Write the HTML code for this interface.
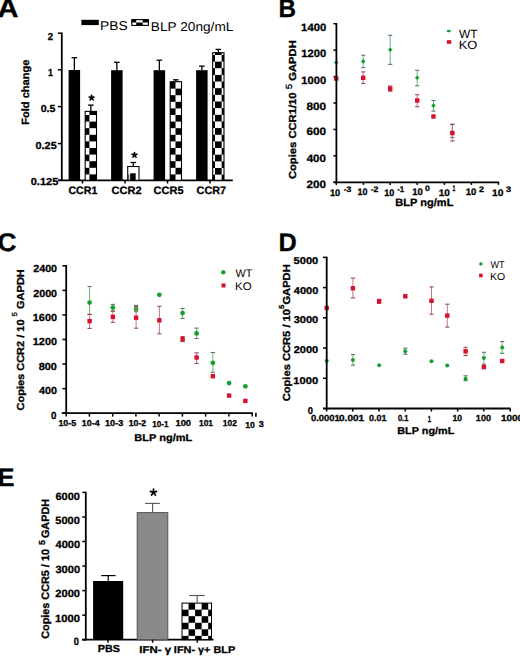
<!DOCTYPE html>
<html><head><meta charset="utf-8"><title>Figure</title><style>html,body{margin:0;padding:0;background:#fff;width:520px;height:656px;overflow:hidden}svg text{font-family:"Liberation Sans", sans-serif;text-rendering:geometricPrecision} svg text[font-weight=bold]{stroke:#000;stroke-width:0.3px}</style></head><body>
<svg width="520" height="656" viewBox="0 0 520 656" style="display:block;font-family:'Liberation Sans', sans-serif"><defs><pattern id="pA0" patternUnits="userSpaceOnUse" x="82.80" y="115.00" width="13.20" height="13.20"><rect width="13.20" height="13.20" fill="#fff"/><rect width="6.60" height="6.60" fill="#000"/><rect x="6.60" y="6.60" width="6.60" height="6.60" fill="#000"/></pattern><pattern id="pA1" patternUnits="userSpaceOnUse" x="130.00" y="173.20" width="11.20" height="11.20"><rect width="11.20" height="11.20" fill="#fff"/><rect width="5.60" height="5.60" fill="#000"/><rect x="5.60" y="5.60" width="5.60" height="5.60" fill="#000"/></pattern><pattern id="pA2" patternUnits="userSpaceOnUse" x="168.90" y="82.00" width="13.20" height="13.20"><rect width="13.20" height="13.20" fill="#fff"/><rect width="6.60" height="6.60" fill="#000"/><rect x="6.60" y="6.60" width="6.60" height="6.60" fill="#000"/></pattern><pattern id="pA3" patternUnits="userSpaceOnUse" x="215.00" y="61.60" width="13.30" height="13.30"><rect width="13.30" height="13.30" fill="#fff"/><rect width="6.65" height="6.65" fill="#000"/><rect x="6.65" y="6.65" width="6.65" height="6.65" fill="#000"/></pattern><pattern id="pE" patternUnits="userSpaceOnUse" x="188.55" y="603.10" width="13.10" height="13.10"><rect width="13.10" height="13.10" fill="#fff"/><rect width="6.55" height="6.55" fill="#000"/><rect x="6.55" y="6.55" width="6.55" height="6.55" fill="#000"/></pattern></defs>
<text x="-2.54" y="17.31" font-size="26.6" font-weight="bold" textLength="20.99" lengthAdjust="spacingAndGlyphs">A</text>
<text x="278.50" y="17.31" font-size="25.6" font-weight="bold" textLength="17.45" lengthAdjust="spacingAndGlyphs">B</text>
<text x="-2.44" y="250.60" font-size="25.6" font-weight="bold" textLength="18.97" lengthAdjust="spacingAndGlyphs">C</text>
<text x="278.62" y="250.67" font-size="25.6" font-weight="bold" textLength="18.27" lengthAdjust="spacingAndGlyphs">D</text>
<text x="-2.41" y="486.08" font-size="25.6" font-weight="bold" textLength="16.97" lengthAdjust="spacingAndGlyphs">E</text>
<rect x="81.40" y="19.80" width="17.40" height="5.30" fill="#000"/>
<text x="100.00" y="29.85" font-size="12.8" font-weight="normal" textLength="27.66" lengthAdjust="spacingAndGlyphs">PBS</text>
<rect x="131.80" y="19.60" width="16.60" height="5.80" fill="#fff" stroke="#000" stroke-width="1.1"/>
<rect x="131.80" y="19.60" width="4.40" height="2.90" fill="#000"/>
<rect x="142.70" y="19.60" width="5.70" height="2.90" fill="#000"/>
<rect x="136.20" y="22.50" width="6.50" height="2.90" fill="#000"/>
<text x="150.82" y="30.61" font-size="12.8" font-weight="normal" textLength="82.55" lengthAdjust="spacingAndGlyphs">BLP 20ng/mL</text>
<line x1="61.80" y1="32.50" x2="61.80" y2="181.00" stroke="#000" stroke-width="1.8"/>
<line x1="58.00" y1="180.30" x2="232.80" y2="180.30" stroke="#000" stroke-width="1.8"/>
<line x1="57.80" y1="33.20" x2="61.80" y2="33.20" stroke="#000" stroke-width="1.5"/>
<text x="47.85" y="39.79" font-size="10.2" font-weight="bold" textLength="5.37" lengthAdjust="spacingAndGlyphs">2</text>
<line x1="57.80" y1="69.80" x2="61.80" y2="69.80" stroke="#000" stroke-width="1.5"/>
<text x="47.88" y="75.61" font-size="10.2" font-weight="bold" textLength="4.93" lengthAdjust="spacingAndGlyphs">1</text>
<line x1="57.80" y1="106.60" x2="61.80" y2="106.60" stroke="#000" stroke-width="1.5"/>
<text x="40.70" y="112.42" font-size="10.2" font-weight="bold" textLength="14.69" lengthAdjust="spacingAndGlyphs">0.5</text>
<line x1="57.80" y1="143.60" x2="61.80" y2="143.60" stroke="#000" stroke-width="1.5"/>
<text x="35.52" y="149.42" font-size="10.2" font-weight="bold" textLength="21.16" lengthAdjust="spacingAndGlyphs">0.25</text>
<line x1="57.80" y1="180.30" x2="61.80" y2="180.30" stroke="#000" stroke-width="1.5"/>
<text x="30.77" y="185.43" font-size="10.2" font-weight="bold" textLength="27.49" lengthAdjust="spacingAndGlyphs">0.125</text>
<text transform="translate(29.36,124.77) rotate(-90) scale(1.0439,1)" font-size="10.6" font-weight="bold">Fold change</text>
<line x1="82.50" y1="180.30" x2="82.50" y2="183.50" stroke="#000" stroke-width="1.5"/>
<text x="68.44" y="194.17" font-size="10.8" font-weight="bold" textLength="28.88" lengthAdjust="spacingAndGlyphs">CCR1</text>
<line x1="125.00" y1="180.30" x2="125.00" y2="183.50" stroke="#000" stroke-width="1.5"/>
<text x="111.50" y="194.17" font-size="10.8" font-weight="bold" textLength="30.03" lengthAdjust="spacingAndGlyphs">CCR2</text>
<line x1="167.50" y1="180.30" x2="167.50" y2="183.50" stroke="#000" stroke-width="1.5"/>
<text x="153.64" y="194.17" font-size="10.8" font-weight="bold" textLength="29.88" lengthAdjust="spacingAndGlyphs">CCR5</text>
<line x1="210.00" y1="180.30" x2="210.00" y2="183.50" stroke="#000" stroke-width="1.5"/>
<text x="196.64" y="194.17" font-size="10.8" font-weight="bold" textLength="29.49" lengthAdjust="spacingAndGlyphs">CCR7</text>
<rect x="68.60" y="70.00" width="11.50" height="110.30" fill="#000"/>
<line x1="74.35" y1="57.70" x2="74.35" y2="70.00" stroke="#000" stroke-width="1.3"/>
<line x1="71.55" y1="57.70" x2="77.15" y2="57.70" stroke="#000" stroke-width="1.3"/>
<rect x="85.20" y="111.40" width="11.30" height="68.90" fill="url(#pA0)" stroke="#000" stroke-width="1.1"/>
<line x1="90.85" y1="105.10" x2="90.85" y2="111.40" stroke="#000" stroke-width="1.3"/>
<line x1="88.05" y1="105.10" x2="93.65" y2="105.10" stroke="#000" stroke-width="1.3"/>
<rect x="111.10" y="70.20" width="11.50" height="110.10" fill="#000"/>
<line x1="116.85" y1="62.30" x2="116.85" y2="70.20" stroke="#000" stroke-width="1.3"/>
<line x1="114.05" y1="62.30" x2="119.65" y2="62.30" stroke="#000" stroke-width="1.3"/>
<rect x="127.70" y="166.50" width="11.30" height="13.80" fill="#fff" stroke="#000" stroke-width="1.1"/>
<rect x="130.20" y="173.30" width="5.50" height="7.00" fill="#000"/>
<rect x="127.70" y="174.50" width="1.60" height="5.80" fill="#555"/>
<line x1="133.35" y1="162.50" x2="133.35" y2="166.50" stroke="#000" stroke-width="1.3"/>
<line x1="130.55" y1="162.50" x2="136.15" y2="162.50" stroke="#000" stroke-width="1.3"/>
<rect x="153.60" y="70.20" width="11.50" height="110.10" fill="#000"/>
<line x1="159.35" y1="60.20" x2="159.35" y2="70.20" stroke="#000" stroke-width="1.3"/>
<line x1="156.55" y1="60.20" x2="162.15" y2="60.20" stroke="#000" stroke-width="1.3"/>
<rect x="170.20" y="81.70" width="11.30" height="98.60" fill="url(#pA2)" stroke="#000" stroke-width="1.1"/>
<line x1="175.85" y1="79.80" x2="175.85" y2="81.70" stroke="#000" stroke-width="1.3"/>
<line x1="173.05" y1="79.80" x2="178.65" y2="79.80" stroke="#000" stroke-width="1.3"/>
<rect x="196.10" y="70.20" width="11.50" height="110.10" fill="#000"/>
<line x1="201.85" y1="66.10" x2="201.85" y2="70.20" stroke="#000" stroke-width="1.3"/>
<line x1="199.05" y1="66.10" x2="204.65" y2="66.10" stroke="#000" stroke-width="1.3"/>
<rect x="212.70" y="52.70" width="11.30" height="127.60" fill="url(#pA3)" stroke="#000" stroke-width="1.1"/>
<line x1="218.35" y1="49.40" x2="218.35" y2="52.70" stroke="#000" stroke-width="1.3"/>
<line x1="215.55" y1="49.40" x2="221.15" y2="49.40" stroke="#000" stroke-width="1.3"/>
<path d="M91.60 97.80 L91.60 95.30 M91.60 97.80 L93.98 97.03 M91.60 97.80 L93.07 99.82 M91.60 97.80 L90.13 99.82 M91.60 97.80 L89.22 97.03 " stroke="#000" stroke-width="1.7" stroke-linecap="round" fill="none"/>
<circle cx="91.60" cy="97.80" r="1.36" fill="#000"/>
<path d="M134.50 155.00 L134.50 152.50 M134.50 155.00 L136.88 154.23 M134.50 155.00 L135.97 157.02 M134.50 155.00 L133.03 157.02 M134.50 155.00 L132.12 154.23 " stroke="#000" stroke-width="1.7" stroke-linecap="round" fill="none"/>
<circle cx="134.50" cy="155.00" r="1.36" fill="#000"/>
<line x1="498.50" y1="182.30" x2="498.50" y2="184.80" stroke="#000" stroke-width="1.5"/>
<line x1="333.40" y1="23.70" x2="336.40" y2="23.70" stroke="#000" stroke-width="1.5"/>
<text x="301.13" y="30.63" font-size="10.7" font-weight="bold" textLength="25.06" lengthAdjust="spacingAndGlyphs">1400</text>
<line x1="333.40" y1="50.13" x2="336.40" y2="50.13" stroke="#000" stroke-width="1.5"/>
<text x="301.39" y="57.03" font-size="10.7" font-weight="bold" textLength="24.78" lengthAdjust="spacingAndGlyphs">1200</text>
<line x1="333.40" y1="76.57" x2="336.40" y2="76.57" stroke="#000" stroke-width="1.5"/>
<text x="301.39" y="83.58" font-size="10.7" font-weight="bold" textLength="24.78" lengthAdjust="spacingAndGlyphs">1000</text>
<line x1="333.40" y1="103.00" x2="336.40" y2="103.00" stroke="#000" stroke-width="1.5"/>
<text x="306.48" y="109.82" font-size="10.7" font-weight="bold" textLength="19.65" lengthAdjust="spacingAndGlyphs">800</text>
<line x1="333.40" y1="129.43" x2="336.40" y2="129.43" stroke="#000" stroke-width="1.5"/>
<text x="306.45" y="135.31" font-size="10.7" font-weight="bold" textLength="19.67" lengthAdjust="spacingAndGlyphs">600</text>
<line x1="333.40" y1="155.87" x2="336.40" y2="155.87" stroke="#000" stroke-width="1.5"/>
<text x="306.68" y="161.52" font-size="10.7" font-weight="bold" textLength="19.28" lengthAdjust="spacingAndGlyphs">400</text>
<line x1="333.40" y1="182.30" x2="336.40" y2="182.30" stroke="#000" stroke-width="1.5"/>
<text x="306.50" y="187.59" font-size="10.7" font-weight="bold" textLength="19.59" lengthAdjust="spacingAndGlyphs">200</text>
<line x1="336.30" y1="182.30" x2="336.30" y2="184.90" stroke="#000" stroke-width="1.5"/>
<text x="329.96" y="195.63" font-size="9.6" font-weight="bold" textLength="10.23" lengthAdjust="spacingAndGlyphs">10</text>
<text x="343.72" y="192.20" font-size="8.0" font-weight="bold" textLength="7.76" lengthAdjust="spacingAndGlyphs">-3</text>
<line x1="363.40" y1="182.30" x2="363.40" y2="184.90" stroke="#000" stroke-width="1.5"/>
<text x="357.42" y="195.27" font-size="9.6" font-weight="bold" textLength="9.96" lengthAdjust="spacingAndGlyphs">10</text>
<text x="370.72" y="192.20" font-size="8.0" font-weight="bold" textLength="7.66" lengthAdjust="spacingAndGlyphs">-2</text>
<line x1="390.20" y1="182.30" x2="390.20" y2="184.90" stroke="#000" stroke-width="1.5"/>
<text x="384.16" y="195.52" font-size="9.6" font-weight="bold" textLength="10.06" lengthAdjust="spacingAndGlyphs">10</text>
<text x="397.22" y="192.20" font-size="8.0" font-weight="bold" textLength="7.06" lengthAdjust="spacingAndGlyphs">-1</text>
<line x1="417.20" y1="182.30" x2="417.20" y2="184.90" stroke="#000" stroke-width="1.5"/>
<text x="412.32" y="195.49" font-size="9.6" font-weight="bold" textLength="10.54" lengthAdjust="spacingAndGlyphs">10</text>
<text x="425.03" y="191.46" font-size="8.0" font-weight="bold" textLength="4.80" lengthAdjust="spacingAndGlyphs">0</text>
<line x1="444.40" y1="182.30" x2="444.40" y2="184.90" stroke="#000" stroke-width="1.5"/>
<text x="438.72" y="195.50" font-size="9.6" font-weight="bold" textLength="11.17" lengthAdjust="spacingAndGlyphs">10</text>
<text x="452.40" y="191.38" font-size="8.0" font-weight="bold" textLength="2.82" lengthAdjust="spacingAndGlyphs">1</text>
<line x1="471.40" y1="182.30" x2="471.40" y2="184.90" stroke="#000" stroke-width="1.5"/>
<text x="465.74" y="195.42" font-size="9.6" font-weight="bold" textLength="10.58" lengthAdjust="spacingAndGlyphs">10</text>
<text x="479.01" y="191.56" font-size="8.0" font-weight="bold" textLength="4.98" lengthAdjust="spacingAndGlyphs">2</text>
<text x="491.93" y="195.71" font-size="9.6" font-weight="bold" textLength="11.43" lengthAdjust="spacingAndGlyphs">10</text>
<text x="505.95" y="191.54" font-size="8.0" font-weight="bold" textLength="5.12" lengthAdjust="spacingAndGlyphs">3</text>
<text x="395.39" y="206.49" font-size="10.6" font-weight="bold" textLength="58.00" lengthAdjust="spacingAndGlyphs">BLP ng/mL</text>
<text transform="translate(295.51,179.12) rotate(-90) scale(1.1011,1)" font-size="10.2" font-weight="bold">Copies CCR1/10 <tspan font-size="9" font-weight="normal" dy="-3.6">5</tspan><tspan dy="3.6"> GAPDH</tspan></text>
<ellipse cx="448.8" cy="31.0" rx="2.1" ry="1.3" fill="#17a032"/>
<rect x="446.80" y="40.20" width="4.50" height="3.60" fill="#d8102a"/>
<text x="459.09" y="38.31" font-size="12.0" font-weight="normal" textLength="18.49" lengthAdjust="spacingAndGlyphs">WT</text>
<text x="458.68" y="49.46" font-size="12.0" font-weight="normal" textLength="18.56" lengthAdjust="spacingAndGlyphs">KO</text>
<path d="M333.90 62.50 L336.20 60.20 L338.50 62.50 L336.20 64.80 Z" fill="#17a032"/>
<line x1="363.20" y1="55.20" x2="363.20" y2="67.60" stroke="#6ab878" stroke-width="1.0"/>
<line x1="361.10" y1="55.20" x2="365.30" y2="55.20" stroke="#5a7a60" stroke-width="1.1"/>
<line x1="361.10" y1="67.60" x2="365.30" y2="67.60" stroke="#5a7a60" stroke-width="1.1"/>
<path d="M360.90 61.40 L363.20 59.10 L365.50 61.40 L363.20 63.70 Z" fill="#17a032"/>
<line x1="390.20" y1="35.30" x2="390.20" y2="64.40" stroke="#6ab878" stroke-width="1.0"/>
<line x1="388.10" y1="35.30" x2="392.30" y2="35.30" stroke="#5a7a60" stroke-width="1.1"/>
<line x1="388.10" y1="64.40" x2="392.30" y2="64.40" stroke="#5a7a60" stroke-width="1.1"/>
<path d="M387.90 49.80 L390.20 47.50 L392.50 49.80 L390.20 52.10 Z" fill="#17a032"/>
<line x1="417.20" y1="70.30" x2="417.20" y2="85.80" stroke="#6ab878" stroke-width="1.0"/>
<line x1="415.10" y1="70.30" x2="419.30" y2="70.30" stroke="#5a7a60" stroke-width="1.1"/>
<line x1="415.10" y1="85.80" x2="419.30" y2="85.80" stroke="#5a7a60" stroke-width="1.1"/>
<path d="M414.90 77.80 L417.20 75.50 L419.50 77.80 L417.20 80.10 Z" fill="#17a032"/>
<line x1="433.46" y1="100.50" x2="433.46" y2="111.10" stroke="#6ab878" stroke-width="1.0"/>
<line x1="431.36" y1="100.50" x2="435.56" y2="100.50" stroke="#5a7a60" stroke-width="1.1"/>
<line x1="431.36" y1="111.10" x2="435.56" y2="111.10" stroke="#5a7a60" stroke-width="1.1"/>
<path d="M431.16 105.60 L433.46 103.30 L435.76 105.60 L433.46 107.90 Z" fill="#17a032"/>
<line x1="452.33" y1="124.20" x2="452.33" y2="137.50" stroke="#6ab878" stroke-width="1.0"/>
<line x1="450.23" y1="124.20" x2="454.43" y2="124.20" stroke="#5a7a60" stroke-width="1.1"/>
<line x1="450.23" y1="137.50" x2="454.43" y2="137.50" stroke="#5a7a60" stroke-width="1.1"/>
<path d="M450.03 132.50 L452.33 130.20 L454.63 132.50 L452.33 134.80 Z" fill="#17a032"/>
<rect x="334.00" y="76.30" width="4.40" height="4.40" fill="#d8102a"/>
<line x1="363.20" y1="71.90" x2="363.20" y2="83.50" stroke="#c07884" stroke-width="1.0"/>
<line x1="361.10" y1="71.90" x2="365.30" y2="71.90" stroke="#9a4858" stroke-width="1.1"/>
<line x1="361.10" y1="83.50" x2="365.30" y2="83.50" stroke="#9a4858" stroke-width="1.1"/>
<rect x="361.00" y="75.60" width="4.40" height="4.40" fill="#d8102a"/>
<line x1="390.20" y1="86.00" x2="390.20" y2="91.20" stroke="#c07884" stroke-width="1.0"/>
<line x1="388.10" y1="86.00" x2="392.30" y2="86.00" stroke="#9a4858" stroke-width="1.1"/>
<line x1="388.10" y1="91.20" x2="392.30" y2="91.20" stroke="#9a4858" stroke-width="1.1"/>
<rect x="388.00" y="86.50" width="4.40" height="4.40" fill="#d8102a"/>
<line x1="417.20" y1="94.70" x2="417.20" y2="106.70" stroke="#c07884" stroke-width="1.0"/>
<line x1="415.10" y1="94.70" x2="419.30" y2="94.70" stroke="#9a4858" stroke-width="1.1"/>
<line x1="415.10" y1="106.70" x2="419.30" y2="106.70" stroke="#9a4858" stroke-width="1.1"/>
<rect x="415.00" y="98.30" width="4.40" height="4.40" fill="#d8102a"/>
<rect x="431.26" y="114.30" width="4.40" height="4.40" fill="#d8102a"/>
<line x1="452.33" y1="124.50" x2="452.33" y2="141.00" stroke="#c07884" stroke-width="1.0"/>
<line x1="450.23" y1="124.50" x2="454.43" y2="124.50" stroke="#9a4858" stroke-width="1.1"/>
<line x1="450.23" y1="141.00" x2="454.43" y2="141.00" stroke="#9a4858" stroke-width="1.1"/>
<rect x="450.13" y="130.80" width="4.40" height="4.40" fill="#d8102a"/>
<line x1="62.40" y1="265.80" x2="66.20" y2="265.80" stroke="#000" stroke-width="1.5"/>
<text x="33.20" y="272.33" font-size="10.3" font-weight="bold" textLength="23.91" lengthAdjust="spacingAndGlyphs">2400</text>
<line x1="62.40" y1="290.37" x2="66.20" y2="290.37" stroke="#000" stroke-width="1.5"/>
<text x="33.20" y="296.73" font-size="10.3" font-weight="bold" textLength="23.91" lengthAdjust="spacingAndGlyphs">2000</text>
<line x1="62.40" y1="314.93" x2="66.20" y2="314.93" stroke="#000" stroke-width="1.5"/>
<text x="32.83" y="320.66" font-size="10.3" font-weight="bold" textLength="24.19" lengthAdjust="spacingAndGlyphs">1600</text>
<line x1="62.40" y1="339.50" x2="66.20" y2="339.50" stroke="#000" stroke-width="1.5"/>
<text x="32.83" y="345.36" font-size="10.3" font-weight="bold" textLength="24.19" lengthAdjust="spacingAndGlyphs">1200</text>
<line x1="62.40" y1="364.07" x2="66.20" y2="364.07" stroke="#000" stroke-width="1.5"/>
<text x="38.70" y="370.45" font-size="10.3" font-weight="bold" textLength="18.24" lengthAdjust="spacingAndGlyphs">800</text>
<line x1="62.40" y1="388.63" x2="66.20" y2="388.63" stroke="#000" stroke-width="1.5"/>
<text x="39.01" y="393.95" font-size="10.3" font-weight="bold" textLength="18.02" lengthAdjust="spacingAndGlyphs">400</text>
<line x1="62.40" y1="413.20" x2="66.20" y2="413.20" stroke="#000" stroke-width="1.5"/>
<text x="50.88" y="418.56" font-size="10.3" font-weight="bold" textLength="5.46" lengthAdjust="spacingAndGlyphs">0</text>
<line x1="66.20" y1="413.20" x2="66.20" y2="416.60" stroke="#000" stroke-width="1.5"/>
<line x1="89.40" y1="413.20" x2="89.40" y2="416.60" stroke="#000" stroke-width="1.5"/>
<line x1="112.70" y1="413.20" x2="112.70" y2="416.60" stroke="#000" stroke-width="1.5"/>
<line x1="135.90" y1="413.20" x2="135.90" y2="416.60" stroke="#000" stroke-width="1.5"/>
<line x1="159.10" y1="413.20" x2="159.10" y2="416.60" stroke="#000" stroke-width="1.5"/>
<line x1="182.40" y1="413.20" x2="182.40" y2="416.60" stroke="#000" stroke-width="1.5"/>
<line x1="205.60" y1="413.20" x2="205.60" y2="416.60" stroke="#000" stroke-width="1.5"/>
<line x1="228.90" y1="413.20" x2="228.90" y2="416.60" stroke="#000" stroke-width="1.5"/>
<line x1="252.20" y1="413.20" x2="252.20" y2="416.60" stroke="#000" stroke-width="1.5"/>
<text x="58.40" y="426.37" font-size="8.6" font-weight="bold" textLength="17.84" lengthAdjust="spacingAndGlyphs">10-5</text>
<text x="81.82" y="426.40" font-size="8.6" font-weight="bold" textLength="17.75" lengthAdjust="spacingAndGlyphs">10-4</text>
<text x="104.91" y="426.29" font-size="8.6" font-weight="bold" textLength="18.42" lengthAdjust="spacingAndGlyphs">10-3</text>
<text x="128.68" y="426.40" font-size="8.6" font-weight="bold" textLength="17.49" lengthAdjust="spacingAndGlyphs">10-2</text>
<text x="152.19" y="426.54" font-size="8.6" font-weight="bold" textLength="16.19" lengthAdjust="spacingAndGlyphs">10-1</text>
<text x="175.45" y="426.45" font-size="8.6" font-weight="bold" textLength="15.58" lengthAdjust="spacingAndGlyphs">100</text>
<text x="198.96" y="426.36" font-size="8.6" font-weight="bold" textLength="14.05" lengthAdjust="spacingAndGlyphs">101</text>
<text x="222.80" y="426.30" font-size="8.6" font-weight="bold" textLength="14.08" lengthAdjust="spacingAndGlyphs">102</text>
<line x1="255.90" y1="412.70" x2="255.90" y2="416.70" stroke="#000" stroke-width="1.6"/>
<text x="245.23" y="427.51" font-size="8.6" font-weight="bold" textLength="9.55" lengthAdjust="spacingAndGlyphs">10</text>
<text x="258.71" y="426.52" font-size="8.6" font-weight="bold" textLength="5.05" lengthAdjust="spacingAndGlyphs">3</text>
<text x="134.38" y="440.94" font-size="10.0" font-weight="bold" textLength="57.82" lengthAdjust="spacingAndGlyphs">BLP ng/mL</text>
<text transform="translate(23.72,410.48) rotate(-90) scale(1.0793,1)" font-size="10.2" font-weight="bold">Copies CCR2 / 10 <tspan font-size="7.3" font-weight="normal" dy="-6.3">5</tspan><tspan dy="6.3"> GAPDH</tspan></text>
<circle cx="223.30" cy="272.30" r="2.2" fill="#17a032"/>
<rect x="221.50" y="283.50" width="4.00" height="4.00" fill="#d8102a"/>
<text x="235.54" y="276.84" font-size="11.0" font-weight="normal" textLength="16.77" lengthAdjust="spacingAndGlyphs">WT</text>
<text x="235.11" y="290.46" font-size="11.0" font-weight="normal" textLength="16.55" lengthAdjust="spacingAndGlyphs">KO</text>
<line x1="89.60" y1="286.50" x2="89.60" y2="314.40" stroke="#6ab878" stroke-width="1.0"/>
<line x1="87.50" y1="286.50" x2="91.70" y2="286.50" stroke="#5a7a60" stroke-width="1.1"/>
<line x1="87.50" y1="314.40" x2="91.70" y2="314.40" stroke="#5a7a60" stroke-width="1.1"/>
<circle cx="89.60" cy="302.60" r="2.4" fill="#17a032"/>
<line x1="112.85" y1="304.40" x2="112.85" y2="311.30" stroke="#6ab878" stroke-width="1.0"/>
<line x1="110.75" y1="304.40" x2="114.95" y2="304.40" stroke="#5a7a60" stroke-width="1.1"/>
<line x1="110.75" y1="311.30" x2="114.95" y2="311.30" stroke="#5a7a60" stroke-width="1.1"/>
<circle cx="112.85" cy="307.60" r="2.4" fill="#17a032"/>
<line x1="136.10" y1="305.40" x2="136.10" y2="311.70" stroke="#6ab878" stroke-width="1.0"/>
<line x1="134.00" y1="305.40" x2="138.20" y2="305.40" stroke="#5a7a60" stroke-width="1.1"/>
<line x1="134.00" y1="311.70" x2="138.20" y2="311.70" stroke="#5a7a60" stroke-width="1.1"/>
<circle cx="136.10" cy="309.00" r="2.4" fill="#17a032"/>
<circle cx="159.35" cy="294.80" r="2.4" fill="#17a032"/>
<line x1="182.60" y1="308.50" x2="182.60" y2="318.40" stroke="#6ab878" stroke-width="1.0"/>
<line x1="180.50" y1="308.50" x2="184.70" y2="308.50" stroke="#5a7a60" stroke-width="1.1"/>
<line x1="180.50" y1="318.40" x2="184.70" y2="318.40" stroke="#5a7a60" stroke-width="1.1"/>
<circle cx="182.60" cy="313.10" r="2.4" fill="#17a032"/>
<line x1="196.60" y1="328.10" x2="196.60" y2="338.50" stroke="#6ab878" stroke-width="1.0"/>
<line x1="194.50" y1="328.10" x2="198.70" y2="328.10" stroke="#5a7a60" stroke-width="1.1"/>
<line x1="194.50" y1="338.50" x2="198.70" y2="338.50" stroke="#5a7a60" stroke-width="1.1"/>
<circle cx="196.60" cy="333.40" r="2.4" fill="#17a032"/>
<line x1="212.85" y1="352.50" x2="212.85" y2="372.30" stroke="#6ab878" stroke-width="1.0"/>
<line x1="210.75" y1="352.50" x2="214.95" y2="352.50" stroke="#5a7a60" stroke-width="1.1"/>
<line x1="210.75" y1="372.30" x2="214.95" y2="372.30" stroke="#5a7a60" stroke-width="1.1"/>
<circle cx="212.85" cy="362.80" r="2.4" fill="#17a032"/>
<circle cx="229.10" cy="383.10" r="2.4" fill="#17a032"/>
<circle cx="245.35" cy="386.30" r="2.4" fill="#17a032"/>
<line x1="89.60" y1="314.40" x2="89.60" y2="328.40" stroke="#c07884" stroke-width="1.0"/>
<line x1="87.50" y1="314.40" x2="91.70" y2="314.40" stroke="#9a4858" stroke-width="1.1"/>
<line x1="87.50" y1="328.40" x2="91.70" y2="328.40" stroke="#9a4858" stroke-width="1.1"/>
<rect x="87.40" y="318.90" width="4.40" height="4.40" fill="#d8102a"/>
<line x1="112.85" y1="311.20" x2="112.85" y2="322.30" stroke="#c07884" stroke-width="1.0"/>
<line x1="110.75" y1="311.20" x2="114.95" y2="311.20" stroke="#9a4858" stroke-width="1.1"/>
<line x1="110.75" y1="322.30" x2="114.95" y2="322.30" stroke="#9a4858" stroke-width="1.1"/>
<rect x="110.65" y="314.70" width="4.40" height="4.40" fill="#d8102a"/>
<line x1="136.10" y1="306.40" x2="136.10" y2="328.20" stroke="#c07884" stroke-width="1.0"/>
<line x1="134.00" y1="306.40" x2="138.20" y2="306.40" stroke="#9a4858" stroke-width="1.1"/>
<line x1="134.00" y1="328.20" x2="138.20" y2="328.20" stroke="#9a4858" stroke-width="1.1"/>
<rect x="133.90" y="315.50" width="4.40" height="4.40" fill="#d8102a"/>
<line x1="159.35" y1="306.30" x2="159.35" y2="333.80" stroke="#c07884" stroke-width="1.0"/>
<line x1="157.25" y1="306.30" x2="161.45" y2="306.30" stroke="#9a4858" stroke-width="1.1"/>
<line x1="157.25" y1="333.80" x2="161.45" y2="333.80" stroke="#9a4858" stroke-width="1.1"/>
<rect x="157.15" y="318.10" width="4.40" height="4.40" fill="#d8102a"/>
<line x1="182.60" y1="336.60" x2="182.60" y2="341.60" stroke="#c07884" stroke-width="1.0"/>
<line x1="180.50" y1="336.60" x2="184.70" y2="336.60" stroke="#9a4858" stroke-width="1.1"/>
<line x1="180.50" y1="341.60" x2="184.70" y2="341.60" stroke="#9a4858" stroke-width="1.1"/>
<rect x="180.40" y="336.90" width="4.40" height="4.40" fill="#d8102a"/>
<line x1="196.60" y1="352.90" x2="196.60" y2="363.50" stroke="#c07884" stroke-width="1.0"/>
<line x1="194.50" y1="352.90" x2="198.70" y2="352.90" stroke="#9a4858" stroke-width="1.1"/>
<line x1="194.50" y1="363.50" x2="198.70" y2="363.50" stroke="#9a4858" stroke-width="1.1"/>
<rect x="194.40" y="355.30" width="4.40" height="4.40" fill="#d8102a"/>
<rect x="210.65" y="374.00" width="4.40" height="4.40" fill="#d8102a"/>
<rect x="226.90" y="393.40" width="4.40" height="4.40" fill="#d8102a"/>
<rect x="243.15" y="398.70" width="4.40" height="4.40" fill="#d8102a"/>
<line x1="323.00" y1="257.40" x2="326.70" y2="257.40" stroke="#000" stroke-width="1.5"/>
<text x="293.55" y="263.55" font-size="9.9" font-weight="bold" textLength="24.66" lengthAdjust="spacingAndGlyphs">5000</text>
<line x1="323.00" y1="287.62" x2="326.70" y2="287.62" stroke="#000" stroke-width="1.5"/>
<text x="293.75" y="293.62" font-size="9.9" font-weight="bold" textLength="24.52" lengthAdjust="spacingAndGlyphs">4000</text>
<line x1="323.00" y1="317.84" x2="326.70" y2="317.84" stroke="#000" stroke-width="1.5"/>
<text x="293.65" y="323.20" font-size="9.9" font-weight="bold" textLength="24.56" lengthAdjust="spacingAndGlyphs">3000</text>
<line x1="323.00" y1="348.06" x2="326.70" y2="348.06" stroke="#000" stroke-width="1.5"/>
<text x="293.69" y="353.26" font-size="9.9" font-weight="bold" textLength="24.51" lengthAdjust="spacingAndGlyphs">2000</text>
<line x1="323.00" y1="378.28" x2="326.70" y2="378.28" stroke="#000" stroke-width="1.5"/>
<text x="293.35" y="383.60" font-size="9.9" font-weight="bold" textLength="24.83" lengthAdjust="spacingAndGlyphs">1000</text>
<text x="307.81" y="413.61" font-size="9.9" font-weight="bold" textLength="5.23" lengthAdjust="spacingAndGlyphs">0</text>
<line x1="326.60" y1="408.50" x2="326.60" y2="411.50" stroke="#000" stroke-width="1.5"/>
<text x="310.97" y="421.35" font-size="8.8" font-weight="bold" textLength="28.76" lengthAdjust="spacingAndGlyphs">0.0001</text>
<line x1="352.80" y1="408.50" x2="352.80" y2="411.50" stroke="#000" stroke-width="1.5"/>
<text x="339.07" y="421.35" font-size="8.8" font-weight="bold" textLength="24.96" lengthAdjust="spacingAndGlyphs">0.001</text>
<line x1="379.00" y1="408.50" x2="379.00" y2="411.50" stroke="#000" stroke-width="1.5"/>
<text x="368.99" y="421.34" font-size="8.8" font-weight="bold" textLength="17.46" lengthAdjust="spacingAndGlyphs">0.01</text>
<line x1="405.20" y1="408.50" x2="405.20" y2="411.50" stroke="#000" stroke-width="1.5"/>
<text x="397.92" y="421.32" font-size="8.8" font-weight="bold" textLength="10.47" lengthAdjust="spacingAndGlyphs">0.1</text>
<line x1="431.40" y1="408.50" x2="431.40" y2="411.50" stroke="#000" stroke-width="1.5"/>
<text x="427.85" y="421.59" font-size="8.8" font-weight="bold" textLength="3.24" lengthAdjust="spacingAndGlyphs">1</text>
<line x1="457.60" y1="408.50" x2="457.60" y2="411.50" stroke="#000" stroke-width="1.5"/>
<text x="452.55" y="421.28" font-size="8.8" font-weight="bold" textLength="9.58" lengthAdjust="spacingAndGlyphs">10</text>
<line x1="483.80" y1="408.50" x2="483.80" y2="411.50" stroke="#000" stroke-width="1.5"/>
<text x="475.86" y="421.39" font-size="8.8" font-weight="bold" textLength="15.06" lengthAdjust="spacingAndGlyphs">100</text>
<line x1="510.20" y1="408.50" x2="510.20" y2="411.50" stroke="#000" stroke-width="1.5"/>
<text x="500.97" y="421.35" font-size="8.8" font-weight="bold" textLength="22.06" lengthAdjust="spacingAndGlyphs">1000</text>
<text x="397.22" y="433.92" font-size="9.8" font-weight="bold" textLength="57.09" lengthAdjust="spacingAndGlyphs">BLP ng/mL</text>
<text transform="translate(289.54,401.32) rotate(-90) scale(1.0947,1)" font-size="10.2" font-weight="bold">Copies CCR5 / 10<tspan font-size="7.2" dy="-5.6">5</tspan><tspan dy="5.6">GAPDH</tspan></text>
<circle cx="480.90" cy="263.90" r="1.7" fill="#1a9030"/>
<rect x="479.10" y="273.70" width="3.60" height="3.60" fill="#d8102a"/>
<text x="490.55" y="268.07" font-size="10.0" font-weight="normal" textLength="14.06" lengthAdjust="spacingAndGlyphs">WT</text>
<text x="490.02" y="279.74" font-size="10.0" font-weight="normal" textLength="15.15" lengthAdjust="spacingAndGlyphs">KO</text>
<circle cx="326.70" cy="360.80" r="2.0" fill="#17a032"/>
<line x1="352.90" y1="354.60" x2="352.90" y2="365.20" stroke="#6ab878" stroke-width="1.0"/>
<line x1="350.80" y1="354.60" x2="355.00" y2="354.60" stroke="#5a7a60" stroke-width="1.1"/>
<line x1="350.80" y1="365.20" x2="355.00" y2="365.20" stroke="#5a7a60" stroke-width="1.1"/>
<circle cx="352.90" cy="360.00" r="2.0" fill="#17a032"/>
<circle cx="379.10" cy="365.20" r="2.0" fill="#17a032"/>
<line x1="405.30" y1="348.20" x2="405.30" y2="354.20" stroke="#6ab878" stroke-width="1.0"/>
<line x1="403.20" y1="348.20" x2="407.40" y2="348.20" stroke="#5a7a60" stroke-width="1.1"/>
<line x1="403.20" y1="354.20" x2="407.40" y2="354.20" stroke="#5a7a60" stroke-width="1.1"/>
<circle cx="405.30" cy="351.20" r="2.0" fill="#17a032"/>
<circle cx="431.50" cy="361.30" r="2.0" fill="#17a032"/>
<circle cx="447.27" cy="365.60" r="2.0" fill="#17a032"/>
<line x1="465.59" y1="375.80" x2="465.59" y2="380.60" stroke="#6ab878" stroke-width="1.0"/>
<line x1="463.49" y1="375.80" x2="467.69" y2="375.80" stroke="#5a7a60" stroke-width="1.1"/>
<line x1="463.49" y1="380.60" x2="467.69" y2="380.60" stroke="#5a7a60" stroke-width="1.1"/>
<circle cx="465.59" cy="378.70" r="2.0" fill="#17a032"/>
<line x1="483.90" y1="352.30" x2="483.90" y2="364.20" stroke="#6ab878" stroke-width="1.0"/>
<line x1="481.80" y1="352.30" x2="486.00" y2="352.30" stroke="#5a7a60" stroke-width="1.1"/>
<line x1="481.80" y1="364.20" x2="486.00" y2="364.20" stroke="#5a7a60" stroke-width="1.1"/>
<circle cx="483.90" cy="358.10" r="2.0" fill="#17a032"/>
<line x1="502.21" y1="341.50" x2="502.21" y2="353.30" stroke="#6ab878" stroke-width="1.0"/>
<line x1="500.11" y1="341.50" x2="504.31" y2="341.50" stroke="#5a7a60" stroke-width="1.1"/>
<line x1="500.11" y1="353.30" x2="504.31" y2="353.30" stroke="#5a7a60" stroke-width="1.1"/>
<circle cx="502.21" cy="347.50" r="2.0" fill="#17a032"/>
<rect x="324.50" y="305.70" width="4.40" height="4.40" fill="#d8102a"/>
<line x1="352.90" y1="278.10" x2="352.90" y2="297.90" stroke="#c07884" stroke-width="1.0"/>
<line x1="350.80" y1="278.10" x2="355.00" y2="278.10" stroke="#9a4858" stroke-width="1.1"/>
<line x1="350.80" y1="297.90" x2="355.00" y2="297.90" stroke="#9a4858" stroke-width="1.1"/>
<rect x="350.70" y="286.10" width="4.40" height="4.40" fill="#d8102a"/>
<line x1="379.10" y1="299.30" x2="379.10" y2="303.30" stroke="#c07884" stroke-width="1.0"/>
<line x1="377.00" y1="299.30" x2="381.20" y2="299.30" stroke="#9a4858" stroke-width="1.1"/>
<line x1="377.00" y1="303.30" x2="381.20" y2="303.30" stroke="#9a4858" stroke-width="1.1"/>
<rect x="376.90" y="299.10" width="4.40" height="4.40" fill="#d8102a"/>
<rect x="403.10" y="294.10" width="4.40" height="4.40" fill="#d8102a"/>
<line x1="431.50" y1="286.90" x2="431.50" y2="314.20" stroke="#c07884" stroke-width="1.0"/>
<line x1="429.40" y1="286.90" x2="433.60" y2="286.90" stroke="#9a4858" stroke-width="1.1"/>
<line x1="429.40" y1="314.20" x2="433.60" y2="314.20" stroke="#9a4858" stroke-width="1.1"/>
<rect x="429.30" y="298.60" width="4.40" height="4.40" fill="#d8102a"/>
<line x1="447.27" y1="304.20" x2="447.27" y2="327.10" stroke="#c07884" stroke-width="1.0"/>
<line x1="445.17" y1="304.20" x2="449.37" y2="304.20" stroke="#9a4858" stroke-width="1.1"/>
<line x1="445.17" y1="327.10" x2="449.37" y2="327.10" stroke="#9a4858" stroke-width="1.1"/>
<rect x="445.07" y="313.40" width="4.40" height="4.40" fill="#d8102a"/>
<line x1="465.59" y1="347.30" x2="465.59" y2="355.60" stroke="#c07884" stroke-width="1.0"/>
<line x1="463.49" y1="347.30" x2="467.69" y2="347.30" stroke="#9a4858" stroke-width="1.1"/>
<line x1="463.49" y1="355.60" x2="467.69" y2="355.60" stroke="#9a4858" stroke-width="1.1"/>
<rect x="463.39" y="349.10" width="4.40" height="4.40" fill="#d8102a"/>
<rect x="481.70" y="364.90" width="4.40" height="4.40" fill="#d8102a"/>
<rect x="500.01" y="358.80" width="4.40" height="4.40" fill="#d8102a"/>
<line x1="85.80" y1="491.70" x2="85.80" y2="640.40" stroke="#000" stroke-width="1.8"/>
<line x1="82.00" y1="639.70" x2="213.50" y2="639.70" stroke="#000" stroke-width="1.8"/>
<line x1="82.30" y1="492.40" x2="85.80" y2="492.40" stroke="#000" stroke-width="1.5"/>
<text x="55.40" y="499.55" font-size="10.5" font-weight="bold" textLength="24.48" lengthAdjust="spacingAndGlyphs">6000</text>
<line x1="82.30" y1="516.95" x2="85.80" y2="516.95" stroke="#000" stroke-width="1.5"/>
<text x="55.37" y="523.51" font-size="10.5" font-weight="bold" textLength="24.45" lengthAdjust="spacingAndGlyphs">5000</text>
<line x1="82.30" y1="541.50" x2="85.80" y2="541.50" stroke="#000" stroke-width="1.5"/>
<text x="55.52" y="548.39" font-size="10.5" font-weight="bold" textLength="24.49" lengthAdjust="spacingAndGlyphs">4000</text>
<line x1="82.30" y1="566.05" x2="85.80" y2="566.05" stroke="#000" stroke-width="1.5"/>
<text x="55.46" y="572.59" font-size="10.5" font-weight="bold" textLength="24.62" lengthAdjust="spacingAndGlyphs">3000</text>
<line x1="82.30" y1="590.60" x2="85.80" y2="590.60" stroke="#000" stroke-width="1.5"/>
<text x="55.38" y="597.24" font-size="10.5" font-weight="bold" textLength="24.60" lengthAdjust="spacingAndGlyphs">2000</text>
<line x1="82.30" y1="615.15" x2="85.80" y2="615.15" stroke="#000" stroke-width="1.5"/>
<text x="55.14" y="621.57" font-size="10.5" font-weight="bold" textLength="24.92" lengthAdjust="spacingAndGlyphs">1000</text>
<line x1="82.30" y1="639.70" x2="85.80" y2="639.70" stroke="#000" stroke-width="1.5"/>
<text x="73.70" y="645.38" font-size="10.5" font-weight="bold" textLength="5.15" lengthAdjust="spacingAndGlyphs">0</text>
<text transform="translate(48.80,638.79) rotate(-90) scale(1.0037,1)" font-size="10.8" font-weight="bold">Copies CCR5 / 10 <tspan font-size="8.8" dy="-3.6" dx="1">5</tspan><tspan dy="3.6" dx="2">GAPDH</tspan></text>
<rect x="93.10" y="581.00" width="30.10" height="58.70" fill="#000"/>
<line x1="108.20" y1="575.60" x2="108.20" y2="581.00" stroke="#000" stroke-width="1.2"/>
<line x1="101.20" y1="575.60" x2="115.60" y2="575.60" stroke="#000" stroke-width="1.2"/>
<rect x="137.20" y="512.60" width="30.60" height="127.10" fill="#8a8a8a" stroke="#555" stroke-width="1.0"/>
<line x1="152.60" y1="503.40" x2="152.60" y2="512.60" stroke="#555" stroke-width="1.1"/>
<line x1="145.10" y1="503.40" x2="159.80" y2="503.40" stroke="#555" stroke-width="1.1"/>
<rect x="182.0" y="603.1" width="29.5" height="36.5" fill="url(#pE)" stroke="#000" stroke-width="1"/>
<line x1="197.20" y1="595.50" x2="197.20" y2="603.10" stroke="#555" stroke-width="1.1"/>
<line x1="189.10" y1="595.50" x2="204.70" y2="595.50" stroke="#555" stroke-width="1.1"/>
<path d="M153.50 492.40 L153.50 489.10 M153.50 492.40 L156.64 491.38 M153.50 492.40 L155.44 495.07 M153.50 492.40 L151.56 495.07 M153.50 492.40 L150.36 491.38 " stroke="#000" stroke-width="1.7" stroke-linecap="round" fill="none"/>
<circle cx="153.50" cy="492.40" r="1.36" fill="#000"/>
<line x1="108.00" y1="639.70" x2="108.00" y2="642.70" stroke="#000" stroke-width="1.5"/>
<line x1="152.60" y1="639.70" x2="152.60" y2="642.70" stroke="#000" stroke-width="1.5"/>
<line x1="197.30" y1="639.70" x2="197.30" y2="642.70" stroke="#000" stroke-width="1.5"/>
<text x="97.71" y="652.43" font-size="10.2" font-weight="bold" textLength="22.19" lengthAdjust="spacingAndGlyphs">PBS</text>
<text x="139.38" y="652.68" font-size="10.0" font-weight="bold" textLength="31.69" lengthAdjust="spacingAndGlyphs">IFN- &#947;</text>
<text x="173.89" y="653.00" font-size="10.0" font-weight="bold" textLength="61.38" lengthAdjust="spacingAndGlyphs">IFN- &#947;+ BLP</text>
<line x1="336.40" y1="23.00" x2="336.40" y2="183.00" stroke="#000" stroke-width="1.8"/>
<line x1="333.60" y1="182.30" x2="499.20" y2="182.30" stroke="#000" stroke-width="1.8"/>
<line x1="66.20" y1="265.10" x2="66.20" y2="413.90" stroke="#000" stroke-width="1.8"/>
<line x1="61.80" y1="413.20" x2="253.00" y2="413.20" stroke="#000" stroke-width="1.8"/>
<line x1="326.70" y1="256.70" x2="326.70" y2="409.20" stroke="#000" stroke-width="1.8"/>
<line x1="323.00" y1="408.50" x2="510.60" y2="408.50" stroke="#000" stroke-width="1.8"/></svg>
</body></html>
